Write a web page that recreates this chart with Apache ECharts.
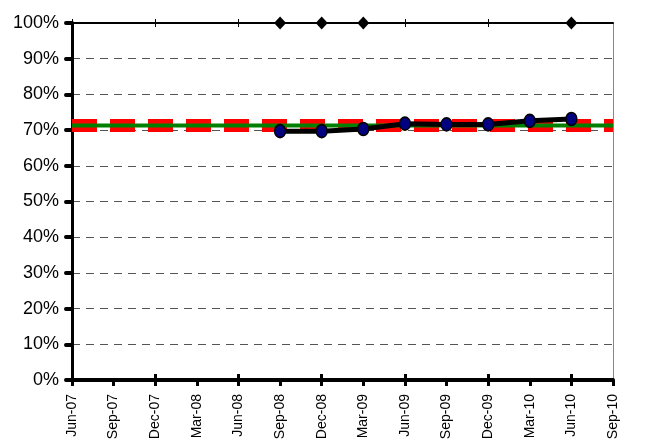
<!DOCTYPE html>
<html>
<head>
<meta charset="utf-8">
<script src="https://cdn.jsdelivr.net/npm/echarts@6/dist/echarts.min.js"></script>
<style>
  html, body { margin: 0; padding: 0; background: #fff; }
  #container { width: 652px; height: 443px; }
</style>
</head>
<body>
<div id="container"></div>
<script>
var quarters = ['Jun-07', 'Sep-07', 'Dec-07', 'Mar-08', 'Jun-08', 'Sep-08', 'Dec-08',
    'Mar-09', 'Jun-09', 'Sep-09', 'Dec-09', 'Mar-10', 'Jun-10', 'Sep-10'];
// measured rate per quarter
var actual = [null, null, null, null, null, 69.7, 69.7, 70.3, 71.8, 71.6, 71.6, 72.6, 73.1, null];
// markers sitting on the 100% line
var flags = [null, null, null, null, null, 100, 100, 100, null, null, null, null, 100, null];
var target = [71.3, 71.3, 71.3, 71.3, 71.3, 71.3, 71.3, 71.3, 71.3, 71.3, 71.3, 71.3, 71.3, 71.3];
var band = [71.3, 71.3, 71.3, 71.3, 71.3, 71.3, 71.3, 71.3, 71.3, 71.3, 71.3, 71.3, 71.3, 71.3];

var dom = document.getElementById('container');
var myChart = echarts.init(dom);

var font = 'Liberation Sans, Arial, sans-serif';

var option = {
    animation: false,
    grid: { left: 72, right: 39, top: 23, bottom: 63, containLabel: false },
    xAxis: [
        {
            type: 'category', data: quarters, boundaryGap: false, position: 'bottom',
            axisLine: { lineStyle: { color: '#000', width: 4 } },
            axisTick: { length: 6, lineStyle: { color: '#000', width: 3 } },
            axisLabel: {
                rotate: 90, margin: 14, color: '#000', fontSize: 14, fontFamily: font,
                interval: 0
            },
            splitLine: { show: false }
        },
        {
            type: 'category', data: quarters, boundaryGap: false, position: 'bottom', offset: 0,
            axisLine: { show: false },
            axisTick: { inside: true, length: 6, lineStyle: { color: '#000', width: 3 } },
            axisLabel: { show: false }
        },
        {
            type: 'category', data: quarters, boundaryGap: false, position: 'top',
            axisLine: { lineStyle: { color: '#000', width: 2 } },
            axisTick: { length: 4, lineStyle: { color: '#000', width: 1 } },
            axisLabel: { show: false }
        },
        {
            type: 'category', data: quarters, boundaryGap: false, position: 'top', offset: 0,
            axisLine: { show: false },
            axisTick: { inside: true, length: 4, lineStyle: { color: '#000', width: 1 } },
            axisLabel: { show: false }
        }
    ],
    yAxis: [
        {
            type: 'value', min: 0, max: 100, interval: 10, position: 'left',
            axisLine: { show: true, lineStyle: { color: '#000', width: 3 } },
            axisTick: { show: true, length: 6, lineStyle: { color: '#000', width: 4, cap: 'round' } },
            axisLabel: {
                formatter: '{value}%', color: '#000', fontSize: 18, fontFamily: font, margin: 13
            },
            splitLine: { show: true, lineStyle: { color: '#555', width: 1, type: [8, 6] } }
        },
        {
            type: 'value', min: 0, max: 100, interval: 10, position: 'right',
            axisLine: { show: true, lineStyle: { color: '#888', width: 1 } },
            axisTick: { show: false },
            axisLabel: { show: false },
            splitLine: { show: false }
        }
    ],
    series: [
        {
            name: 'band', type: 'line', data: band, symbol: 'none', z: 2,
            lineStyle: { color: '#ff0000', width: 13, type: [25, 13], cap: 'butt' }
        },
        {
            name: 'target', type: 'line', data: target, symbol: 'none', z: 3,
            lineStyle: { color: '#008000', width: 4 }
        },
        {
            name: 'actual', type: 'line', data: actual, z: 4,
            symbol: 'circle', symbolSize: [11, 13],
            itemStyle: { color: '#000080', borderColor: '#000', borderWidth: 1.5 },
            lineStyle: { color: '#000', width: 5 }
        },
        {
            name: 'flags', type: 'line', data: flags, z: 5,
            symbol: 'diamond', symbolSize: [12, 13],
            itemStyle: { color: '#000' },
            lineStyle: { width: 0 }
        }
    ]
};

if (option && typeof option === 'object') {
    myChart.setOption(option, true);
}
</script>
</body>
</html>
